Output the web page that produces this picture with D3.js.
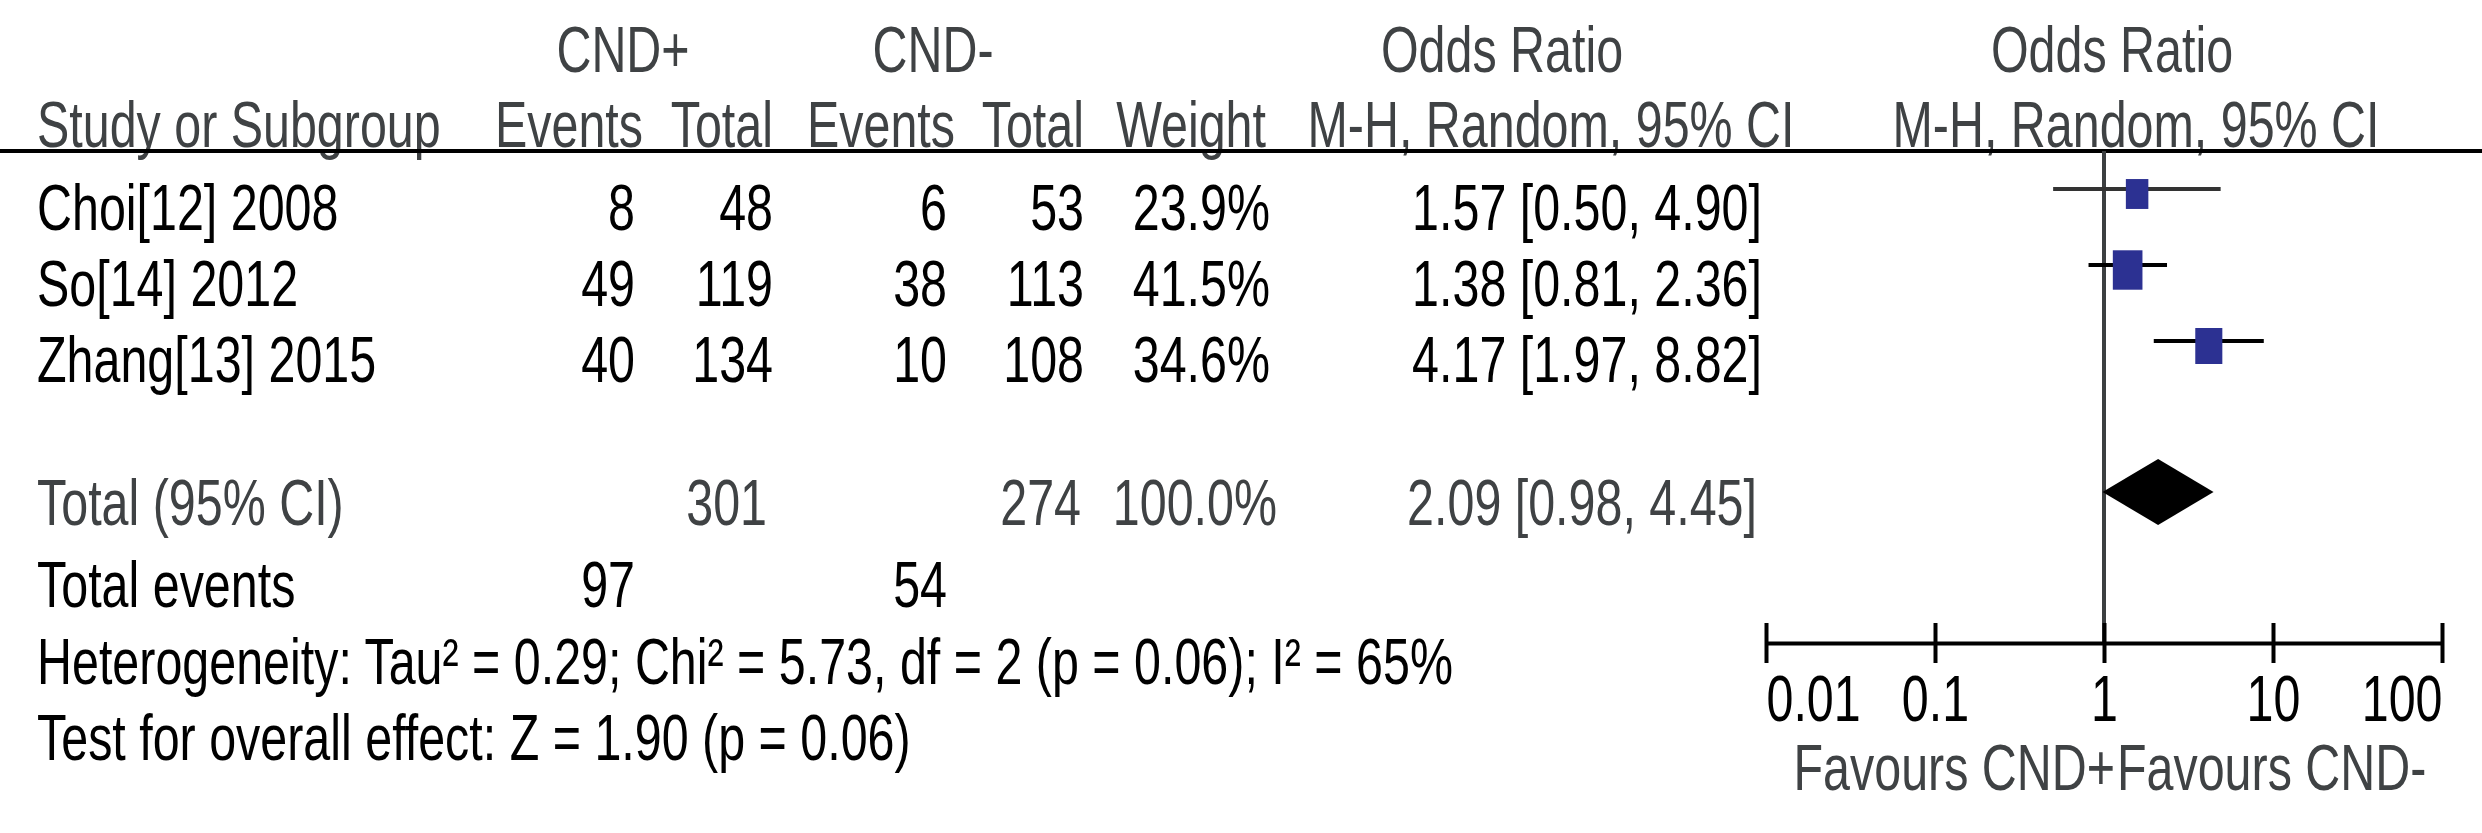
<!DOCTYPE html>
<html>
<head>
<meta charset="utf-8">
<script src="https://cdn.jsdelivr.net/npm/d3@7"></script>
<style>
  html, body { margin: 0; padding: 0; background: #fff; }
  text { font-family: "Liberation Sans", Arial, Helvetica, sans-serif; font-size: 65px; }
</style>
</head>
<body>
<svg id="forest"></svg>
<script>
// data
var studies = ["Choi[12] 2008", "So[14] 2012", "Zhang[13] 2015"];
var eventsPos = [8, 49, 40];
var totalPos = [48, 119, 134];
var eventsNeg = [6, 38, 10];
var totalNeg = [53, 113, 108];
var weights = [23.9, 41.5, 34.6];
var orValues = [1.57, 1.38, 4.17];
var ciLower = [0.50, 0.81, 1.97];
var ciUpper = [4.90, 2.36, 8.82];
var pooled = [2.09, 0.98, 4.45];   // OR, lower, upper
var pooledTotals = [301, 274];
var pooledWeight = 100.0;
var totalEvents = [97, 54];
var heterogeneity = "Heterogeneity: Tau² = 0.29; Chi² = 5.73, df = 2 (p = 0.06); I² = 65%";
var overallTest = "Test for overall effect: Z = 1.90 (p = 0.06)";
var tickValues = [0.01, 0.1, 1, 10, 100];

function run() {
  var W = 2482, H = 833;
  var sx = 0.745;           // the figure is squeezed horizontally
  var grey = "#3f4244";

  var svg = d3.select("#forest").attr("width", W).attr("height", H);

  // helper: condensed text
  function txt(x, y, s, anchor, color) {
    return svg.append("text")
      .attr("transform", "translate(" + x + "," + y + ") scale(" + sx + ",1)")
      .attr("text-anchor", anchor || "start")
      .attr("fill", color || "#000")
      .text(s);
  }

  // scales
  var x = d3.scaleLog().domain([0.01, 100]).range([1766, 2442]);
  var rowY = d3.scaleLinear().domain([0, 1]).range([230, 306]);   // text baselines
  var boxW = d3.scaleSqrt().domain([0, 100]).range([0, 46]);

  var col = { study: 37, evP: 635, totP: 773, evN: 947, totN: 1084, wt: 1270, or: 1762 };

  // headers
  txt(623, 72, "CND+", "middle", grey);
  txt(933, 72, "CND-", "middle", grey);
  txt(1502, 72, "Odds Ratio", "middle", grey);
  txt(2112, 72, "Odds Ratio", "middle", grey);
  txt(col.study, 147, "Study or Subgroup", "start", grey);
  txt(643, 147, "Events", "end", grey);
  txt(col.totP, 147, "Total", "end", grey);
  txt(955, 147, "Events", "end", grey);
  txt(col.totN, 147, "Total", "end", grey);
  txt(1266, 147, "Weight", "end", grey);
  txt(1551, 147, "M-H, Random, 95% CI", "middle", grey);
  txt(2136, 147, "M-H, Random, 95% CI", "middle", grey);

  svg.append("line").attr("x1", 0).attr("x2", W).attr("y1", 151).attr("y2", 151)
    .attr("stroke", "#000").attr("stroke-width", 4);

  // study rows
  studies.forEach(function (s, i) {
    var y = rowY(i);
    txt(col.study, y, s);
    txt(col.evP, y, eventsPos[i], "end");
    txt(col.totP, y, totalPos[i], "end");
    txt(col.evN, y, eventsNeg[i], "end");
    txt(col.totN, y, totalNeg[i], "end");
    txt(col.wt, y, weights[i].toFixed(1) + "%", "end");
    txt(col.or, y, orValues[i].toFixed(2) + " [" + ciLower[i].toFixed(2) + ", " + ciUpper[i].toFixed(2) + "]", "end");
  });

  // total row
  var yTot = 525;
  txt(col.study, yTot, "Total (95% CI)", "start", grey);
  txt(767, yTot, pooledTotals[0], "end", grey);
  txt(1081, yTot, pooledTotals[1], "end", grey);
  txt(1277, yTot, pooledWeight.toFixed(1) + "%", "end", grey);
  txt(1757, yTot, pooled[0].toFixed(2) + " [" + pooled[1].toFixed(2) + ", " + pooled[2].toFixed(2) + "]", "end", grey);

  txt(col.study, 607, "Total events");
  txt(col.evP, 607, totalEvents[0], "end");
  txt(col.evN, 607, totalEvents[1], "end");
  txt(col.study, 684, heterogeneity);
  txt(col.study, 760, overallTest);

  // reference line at OR = 1
  var axisY = 643;
  svg.append("line").attr("x1", x(1)).attr("x2", x(1)).attr("y1", 151).attr("y2", axisY)
    .attr("stroke", "#3c3f41").attr("stroke-width", 4);

  // CI lines and boxes
  var plot = svg.append("g");
  plot.selectAll(".ci").data(studies).enter().append("line")
    .attr("class", "ci")
    .attr("x1", function (d, i) { return x(ciLower[i]); })
    .attr("x2", function (d, i) { return x(ciUpper[i]); })
    .attr("y1", function (d, i) { return rowY(i) - 41; })
    .attr("y2", function (d, i) { return rowY(i) - 41; })
    .attr("stroke", function (d, i) { return i === 0 ? "#333" : "#000"; })
    .attr("stroke-width", 4);

  plot.selectAll(".box").data(studies).enter().append("rect")
    .attr("class", "box")
    .attr("x", function (d, i) { return x(orValues[i]) - boxW(weights[i]) / 2; })
    .attr("y", function (d, i) { return rowY(i) - 36 - boxW(weights[i]) * 1.33 / 2; })
    .attr("width", function (d, i) { return boxW(weights[i]); })
    .attr("height", function (d, i) { return boxW(weights[i]) * 1.33; })
    .attr("fill", "#2c3192");

  // pooled diamond
  var dy = yTot - 33, dh = 33;
  plot.append("path")
    .attr("d", "M" + x(pooled[1]) + "," + dy + "L" + x(pooled[0]) + "," + (dy - dh) +
      "L" + x(pooled[2]) + "," + dy + "L" + x(pooled[0]) + "," + (dy + dh) + "Z")
    .attr("fill", "#000");

  // axis
  var ax = svg.append("g").attr("transform", "translate(0," + axisY + ")")
    .call(d3.axisBottom(x).tickValues(tickValues).tickFormat(d3.format("~g")).tickSize(20).tickSizeOuter(0));
  ax.select(".domain").attr("stroke", "#000").attr("stroke-width", 4);
  ax.selectAll(".tick line").attr("y1", -20).attr("y2", 20).attr("stroke", "#000").attr("stroke-width", 4);
  ax.selectAll(".tick text")
    .attr("y", 0).attr("dy", null)
    .attr("transform", "translate(0,78) scale(" + sx + ",1)")
    .attr("fill", "#000")
    .style("font-size", "65px")
    .style("font-family", "'Liberation Sans', Arial, sans-serif")
    .attr("text-anchor", function (d, i) { return i === 0 ? "start" : (i === tickValues.length - 1 ? "end" : "middle"); });

  txt(2115, 790, "Favours CND+", "end", grey);
  txt(2117, 790, "Favours CND-", "start", grey);
}

run();
</script>
</body>
</html>
